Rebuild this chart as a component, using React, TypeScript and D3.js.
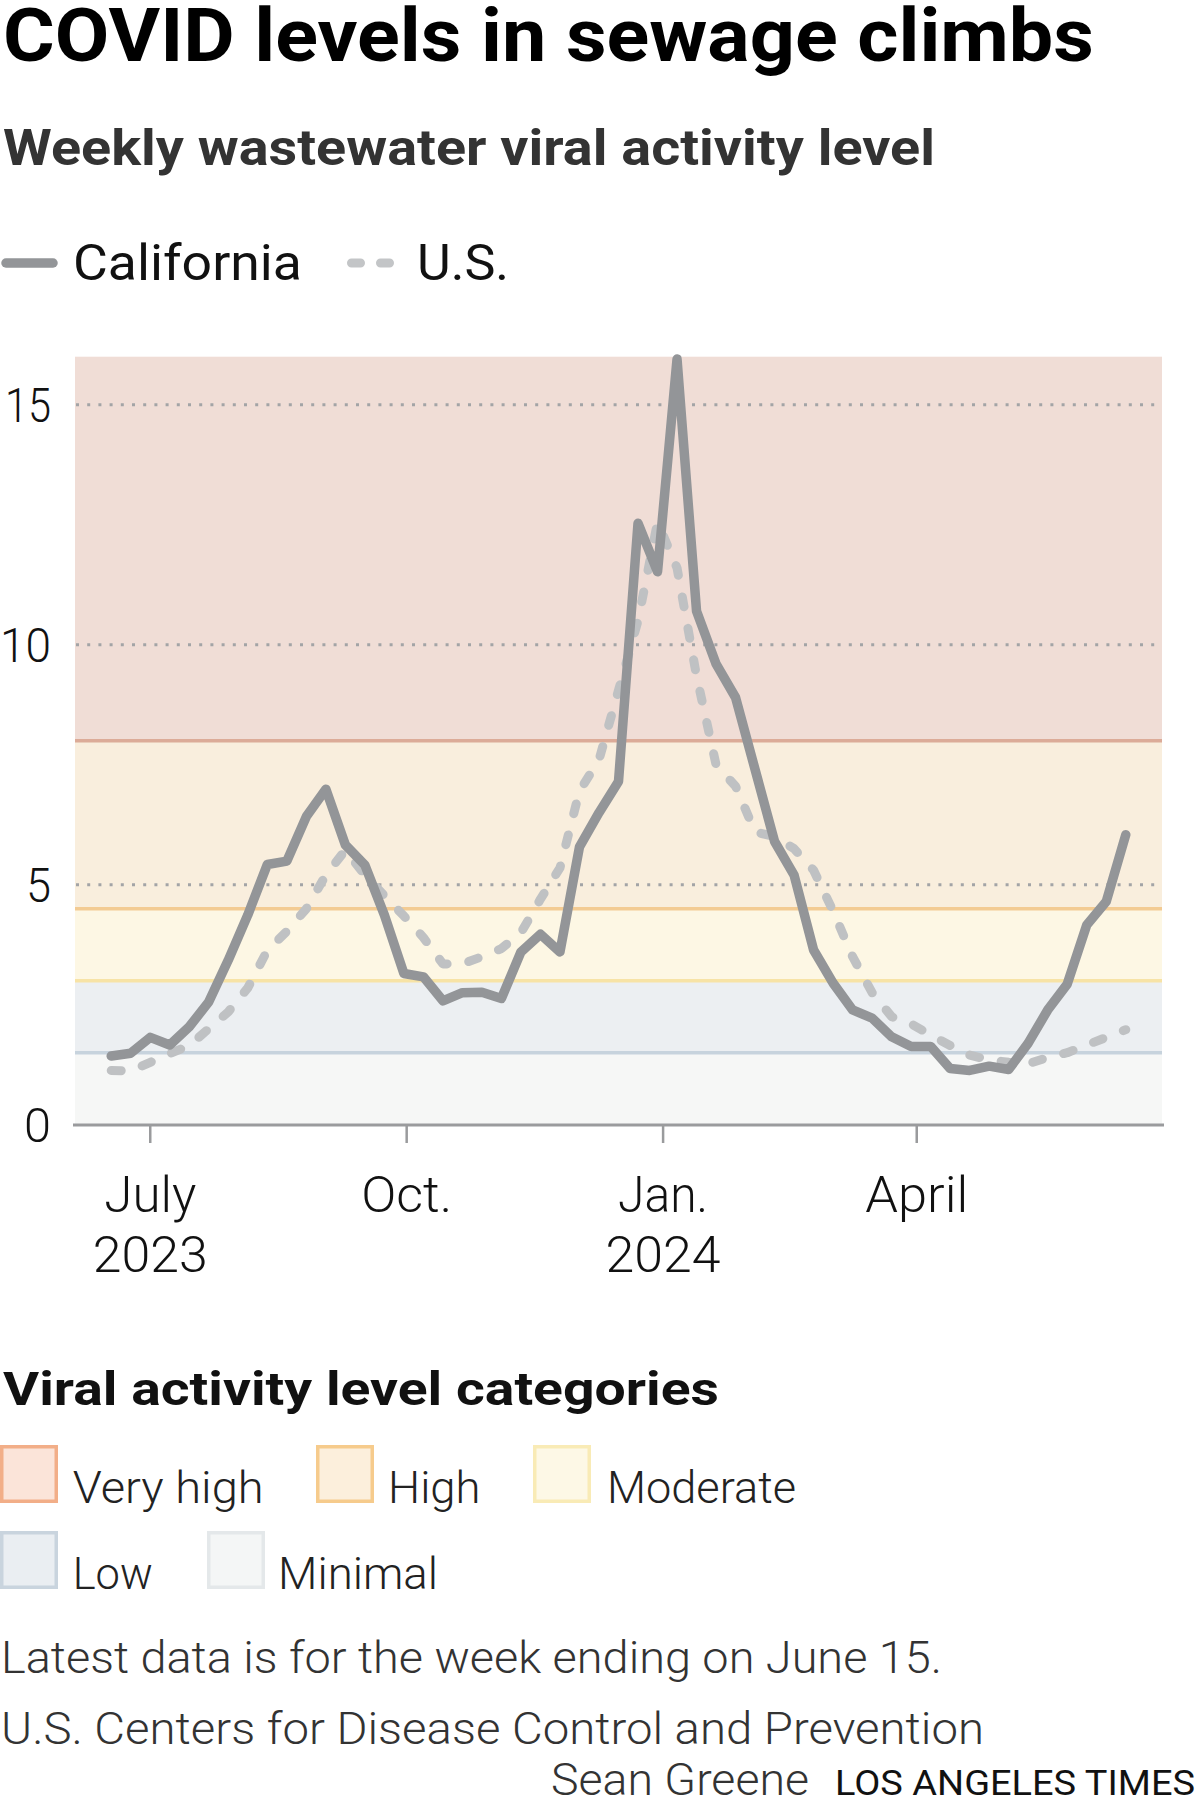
import React from "react";
import * as d3 from "d3";

// ---- Data ----
const weekEnding: string[] = [
  "2023-06-17", "2023-06-24", "2023-07-01", "2023-07-08", "2023-07-15", "2023-07-22", "2023-07-29",
  "2023-08-05", "2023-08-12", "2023-08-19", "2023-08-26", "2023-09-02", "2023-09-09", "2023-09-16",
  "2023-09-23", "2023-09-30", "2023-10-07", "2023-10-14", "2023-10-21", "2023-10-28", "2023-11-04",
  "2023-11-11", "2023-11-18", "2023-11-25", "2023-12-02", "2023-12-09", "2023-12-16", "2023-12-23",
  "2023-12-30", "2024-01-06", "2024-01-13", "2024-01-20", "2024-01-27", "2024-02-03", "2024-02-10",
  "2024-02-17", "2024-02-24", "2024-03-02", "2024-03-09", "2024-03-16", "2024-03-23", "2024-03-30",
  "2024-04-06", "2024-04-13", "2024-04-20", "2024-04-27", "2024-05-04", "2024-05-11", "2024-05-18",
  "2024-05-25", "2024-06-01", "2024-06-08", "2024-06-15",
];

const california: number[] = [
  1.43, 1.49, 1.82, 1.66, 2.04, 2.56, 3.43, 4.37, 5.42, 5.49, 6.42, 6.99, 5.83, 5.41,
  4.37, 3.15, 3.08, 2.58, 2.75, 2.76, 2.63, 3.6, 3.97, 3.6, 5.79, 6.5, 7.15, 12.53,
  11.52, 15.95, 10.7, 9.6, 8.9, 7.4, 5.9, 5.2, 3.64, 2.95, 2.39, 2.22, 1.83, 1.63,
  1.63, 1.17, 1.13, 1.22, 1.15, 1.7, 2.39, 2.93, 4.16, 4.65, 6.04,
];

const us: number[] = [
  1.13, 1.12, 1.3, 1.48, 1.65, 2.0, 2.35, 2.85, 3.63, 4.03, 4.5, 5.2, 5.72, 5.2,
  4.77, 4.35, 3.9, 3.35, 3.35, 3.5, 3.67, 4.0, 4.7, 5.35, 6.95, 7.6, 9.05, 10.5,
  12.55, 11.6, 9.35, 7.5, 7.05, 6.1, 6.0, 5.75, 5.3, 4.45, 3.5, 2.75, 2.25, 2.1,
  1.87, 1.65, 1.45, 1.35, 1.3, 1.27, 1.4, 1.5, 1.66, 1.82, 1.98,
];

const levelNames: string[] = ["Very high", "High", "Moderate", "Low", "Minimal"];
const levelLow: number[] = [8, 4.5, 3, 1.5, 0];
const levelHigh: number[] = [16, 8, 4.5, 3, 1.5];
const bandFill: string[] = ["#f0ddd6", "#f9eedd", "#fdf7e4", "#eceff2", "#f6f7f6"];
const bandLine: string[] = ["#dcab98", "#f3cb93", "#f7e3a6", "#c7d3dd", "none"];
const swatchFill: string[] = ["#fbe4d9", "#fcefdc", "#fdf8e6", "#eaeef2", "#f4f6f6"];
const swatchStroke: string[] = ["#f2ae88", "#f6cb8c", "#f9ebb6", "#c9d4de", "#e4e8ea"];

const yTicks: number[] = [0, 5, 10, 15];
const gridTicks: number[] = [5, 10, 15];
const xTickDates: string[] = ["2023-07-01", "2023-10-01", "2024-01-01", "2024-04-01"];
const xTickMonth: string[] = ["July", "Oct.", "Jan.", "April"];
const xTickYear: string[] = ["2023", "", "2024", ""];

const FONT = "Roboto, 'Noto Sans', sans-serif";
const parse = (s: string) => new Date(s + "T00:00:00Z");

type TP = {
  x: number; y: number; w?: number; size: number; weight?: number; fill?: string;
  anchor?: "start" | "middle" | "end"; children: React.ReactNode;
};
const T = ({ x, y, w, size, weight = 300, fill = "#111", anchor = "start", children }: TP) => (
  <text
    x={x}
    y={y}
    fontSize={size}
    fontWeight={weight}
    fill={fill}
    textAnchor={anchor}
    fontFamily={FONT}
    {...(w ? { textLength: w, lengthAdjust: "spacingAndGlyphs" } : {})}
  >
    {children}
  </text>
);

export default function App() {
  const W = 1200;
  const H = 1815;
  const left = 75;
  const right = 1162;

  const x = d3
    .scaleUtc()
    .domain([parse("2023-06-04"), parse("2024-06-28")])
    .range([left, right]);
  const y = d3.scaleLinear().domain([0, 16]).range([1124.7, 356.7]);

  const dates = weekEnding.map(parse);
  const line = d3
    .line<number>()
    .x((_, i) => x(dates[i]))
    .y((d) => y(d));

  const yLabelW: Record<number, number> = { 0: 27, 5: 25, 10: 51, 15: 46 };
  const monthW = [92, 91, 90, 103];

  // legend layout (positions only)
  const swatchX = [0, 316, 533, 0, 207];
  const swatchY = [1445, 1445, 1445, 1531, 1531];
  const labelX = [72.7, 388, 607, 72.7, 278];
  const labelW = [191, 92.5, 189, 80, 160];

  return (
    <div style={{ position: "absolute", left: 0, top: 0, width: W, height: H, background: "#fff" }}>
      <svg width={W} height={H} viewBox={`0 0 ${W} ${H}`} style={{ display: "block" }}>
        <rect x={0} y={0} width={W} height={H} fill="#fff" />

        {/* Titles */}
        <T x={3} y={61} w={1091} size={75} weight={700} fill="#000">
          COVID levels in sewage climbs
        </T>
        <T x={3} y={165} w={932} size={50} weight={700} fill="#333">
          Weekly wastewater viral activity level
        </T>

        {/* Series legend */}
        <line x1={6} x2={53} y1={263} y2={263} stroke="#939598" strokeWidth={9.5} strokeLinecap="round" />
        <T x={73} y={280} w={229} size={50} weight={400} fill="#111">
          California
        </T>
        <line
          x1={351.5}
          x2={391.5}
          y1={263}
          y2={263}
          stroke="#c3c5c7"
          strokeWidth={9}
          strokeLinecap="round"
          strokeDasharray="9 20"
        />
        <T x={417} y={280} w={92} size={50} weight={400} fill="#111">
          U.S.
        </T>

        {/* Bands */}
        {levelNames.map((n, i) => (
          <rect
            key={n}
            x={left}
            width={right - left}
            y={y(levelHigh[i])}
            height={y(levelLow[i]) - y(levelHigh[i])}
            fill={bandFill[i]}
          />
        ))}
        {levelNames.map((n, i) =>
          bandLine[i] === "none" ? null : (
            <line
              key={"bl" + n}
              x1={left}
              x2={right}
              y1={y(levelLow[i])}
              y2={y(levelLow[i])}
              stroke={bandLine[i]}
              strokeWidth={3.5}
            />
          )
        )}

        {/* Gridlines */}
        {gridTicks.map((t) => (
          <line
            key={"g" + t}
            x1={left + 1}
            x2={right}
            y1={y(t)}
            y2={y(t)}
            stroke="#a3a4a6"
            strokeWidth={3}
            strokeDasharray="3 8.2"
          />
        ))}

        {/* Y labels */}
        {yTicks.map((t) => (
          <T key={"yl" + t} x={51} y={y(t) + 17.5} w={yLabelW[t]} size={48} anchor="end" fill="#111">
            {String(t)}
          </T>
        ))}

        {/* X axis */}
        <line x1={73} x2={1164} y1={1125} y2={1125} stroke="#9a9b9d" strokeWidth={3} />
        {xTickDates.map((d, i) => {
          const xx = x(parse(d));
          return (
            <g key={d}>
              <line x1={xx} x2={xx} y1={1125} y2={1143} stroke="#9a9b9d" strokeWidth={2.5} />
              <T x={xx} y={1211.5} w={monthW[i]} size={50} anchor="middle" fill="#111">
                {xTickMonth[i]}
              </T>
              {xTickYear[i] ? (
                <T x={xx} y={1271.5} w={115} size={50} anchor="middle" fill="#111">
                  {xTickYear[i]}
                </T>
              ) : null}
            </g>
          );
        })}

        {/* Lines */}
        <path
          d={line(us) || ""}
          fill="none"
          stroke="#bfc1c3"
          strokeWidth={9}
          strokeLinecap="round"
          strokeLinejoin="round"
          strokeDasharray="10 22"
        />
        <path
          d={line(california) || ""}
          fill="none"
          stroke="#939598"
          strokeWidth={9.5}
          strokeLinecap="round"
          strokeLinejoin="round"
        />

        {/* Category legend */}
        <T x={3} y={1405} w={716} size={46} weight={700} fill="#111">
          Viral activity level categories
        </T>
        {levelNames.map((n, i) => (
          <g key={"lg" + n}>
            <rect
              x={swatchX[i] + 1.75}
              y={swatchY[i] + 1.75}
              width={54.5}
              height={54.5}
              fill={swatchFill[i]}
              stroke={swatchStroke[i]}
              strokeWidth={3.5}
            />
            <T x={labelX[i]} y={swatchY[i] + 57.5} w={labelW[i]} size={44} fill="#222">
              {n}
            </T>
          </g>
        ))}

        {/* Notes */}
        <T x={1} y={1673} w={941} size={44} fill="#333">
          Latest data is for the week ending on June 15.
        </T>
        <T x={1} y={1744} w={983} size={44} fill="#333">
          U.S. Centers for Disease Control and Prevention
        </T>
        <T x={551} y={1795} w={258} size={44} fill="#333">
          Sean Greene
        </T>
        <T x={835} y={1795} w={360} size={35} weight={400} fill="#111">
          LOS ANGELES TIMES
        </T>
      </svg>
    </div>
  );
}
